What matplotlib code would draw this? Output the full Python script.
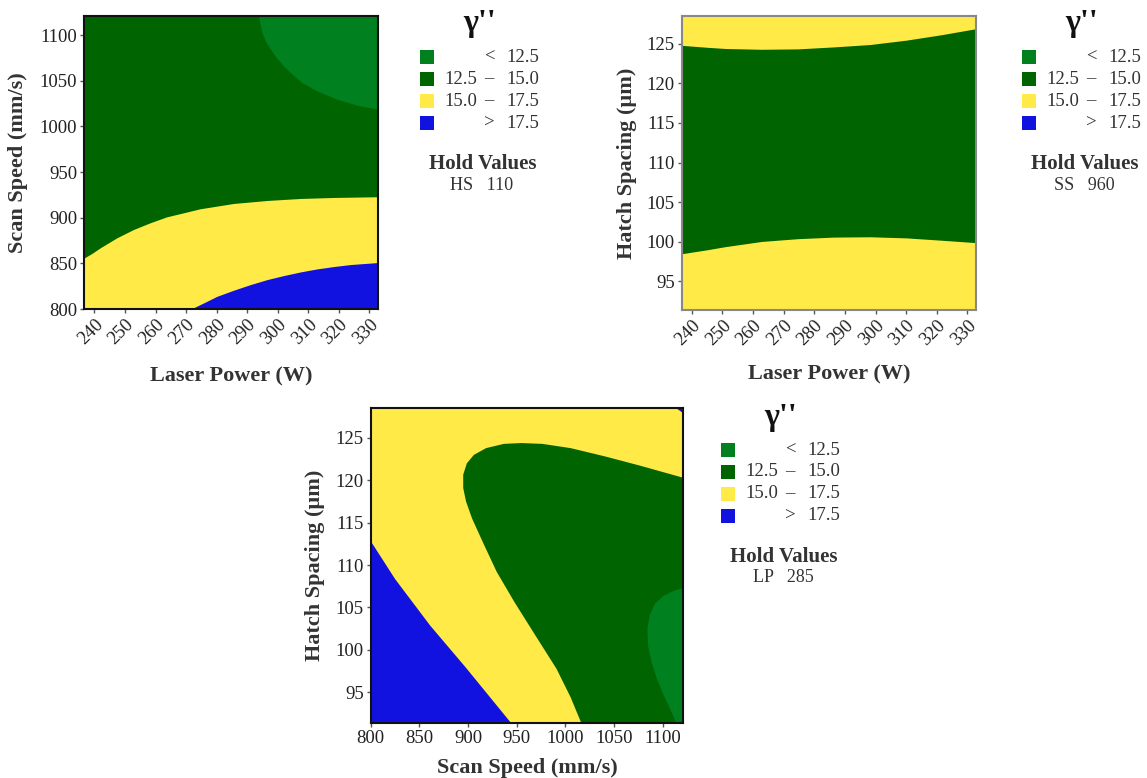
import matplotlib
matplotlib.use("Agg")
import matplotlib.pyplot as plt
from matplotlib.patches import Rectangle

W, H = 1147, 778
plt.rcParams["font.family"] = ["Liberation Serif", "DejaVu Serif"]

# band colours and legend entries (gamma'' level bands)
band_colors = ["#00801f", "#006400", "#ffea47", "#1111e0"]
band_labels = [("", "<", "12.5"), ("12.5", "–", "15.0"),
               ("15.0", "–", "17.5"), ("", ">", "17.5")]

# factor ranges shown on the axes
lp_range = (236.7, 332.8)
ss_range = (800, 1121)
hs_range = (91.4, 128.5)

# panel 1: laser power vs scan speed (HS held at 110), band boundaries
lp_c15 = [236.7, 239.1, 241.9, 247.3, 252.8, 258.2, 263.7, 269.2, 274.6,
          285.5, 296.5, 307.4, 318.3, 332.8]
ss_c15 = [856, 860.7, 867, 877.9, 887.1, 894.4, 901, 905.4, 909.8,
          915.6, 918.9, 921.1, 922.2, 923]
lp_c175 = [271.6, 275.7, 280.1, 285.5, 291.0, 296.5, 301.9, 307.4, 312.8,
           318.3, 323.8, 332.8]
ss_c175 = [800, 806.6, 813.9, 820.5, 826.7, 832.2, 836.6, 840.6, 843.9,
           846.5, 848.7, 850.9]
lp_c125 = [293.7, 294.1, 294.8, 295.9, 297.6, 299.5, 301.9, 304.7, 307.9,
           312.8, 319.4, 326.0, 332.8]
ss_c125 = [1121, 1113.9, 1103, 1093.8, 1084.7, 1075.5, 1066.4, 1057.2, 1048.1,
           1038.9, 1029.8, 1023.2, 1018.8]

# panel 2: laser power vs hatch spacing (SS held at 960)
lp2 = [236.7, 245, 251.0, 262.8, 274.6, 286.4, 298.2, 310.0, 321.7, 332.8]
hs_upper = [124.8, 124.55, 124.4, 124.3, 124.35, 124.6, 124.9, 125.45, 126.15, 126.9]
hs_lower = [98.5, 99.0, 99.4, 100.05, 100.4, 100.6, 100.64, 100.5, 100.2, 99.9]

# panel 3: scan speed vs hatch spacing (LP held at 285)
ss_blue = [800, 824.6, 860.7, 896.9, 943.8]
hs_blue = [112.8, 108.4, 102.9, 98.0, 91.4]
ss_mid = [1016.1, 1005.3, 990.8, 969.1, 947.5, 929.4, 914.9, 904.1, 897.9,
          895.0, 895.0, 898.7, 905.9, 918.5, 936.6, 954.7, 976.4, 1005.3,
          1041.4, 1077.6, 1121, 1121]
hs_mid = [91.4, 94.4, 97.76, 101.7, 105.65, 109.2, 112.76, 115.5, 117.5,
          119.1, 120.66, 122.0, 123.0, 123.8, 124.3, 124.4, 124.3, 123.8,
          122.8, 121.7, 120.3, 91.4]
ss_low = [1121, 1111.9, 1101, 1092, 1086.6, 1084.1, 1084.8, 1088.4, 1093.8,
          1101, 1108.3, 1113.7, 1121]
hs_low = [107.3, 107.0, 106.4, 105.46, 104.1, 102.5, 100.5, 98.55, 96.6,
          94.6, 92.8, 91.4, 91.4]
ss_corner = [1113.5, 1121, 1121]
hs_corner = [128.5, 128.5, 127.9]

hold_values = ["HS   110", "SS   960", "LP   285"]

fig = plt.figure(figsize=(W / 100, H / 100), dpi=100)


def px_axes(left, top, right, bottom):
    return fig.add_axes([left / W, 1 - bottom / H, (right - left) / W, (bottom - top) / H])


def style(ax, xlabel, ylabel, xlab_y, ylab_x, frame, rotate):
    for s in ax.spines.values():
        s.set_color(frame)
        s.set_linewidth(1.5)
    ax.tick_params(length=3, width=1, color="#555555", labelsize=13.5,
                   labelcolor="#222222", pad=2)
    if rotate:
        for t in ax.get_xticklabels():
            t.set_rotation(45)
            t.set_ha("right")
            t.set_rotation_mode("anchor")
    ax.set_xlabel(xlabel, fontsize=16, fontweight="bold", color="#333333", va="center")
    ax.set_ylabel(ylabel, fontsize=16, fontweight="bold", color="#333333", va="center")
    ax.xaxis.set_label_coords(0.5, xlab_y)
    ax.yaxis.set_label_coords(ylab_x, 0.5)


def legend(x0, y0, hold):
    def fx(x):
        return x / W

    def fy(y):
        return 1 - y / H

    fig.text(fx(x0 + 60), fy(y0 - 33), "γ''", fontsize=23, fontweight="bold",
             ha="center", va="center", color="#111111")
    for i, (c, (a, s, b)) in enumerate(zip(band_colors, band_labels)):
        yc = y0 + i * 22
        fig.add_artist(Rectangle((fx(x0), fy(yc + 7)), 14 / W, 14 / H,
                                 transform=fig.transFigure, facecolor=c,
                                 edgecolor="none"))
        kw = dict(fontsize=13.5, va="center", color="#333333")
        fig.text(fx(x0 + 57), fy(yc), a, ha="right", **kw)
        fig.text(fx(x0 + 69), fy(yc), s, ha="center", **kw)
        fig.text(fx(x0 + 119), fy(yc), b, ha="right", **kw)
    fig.text(fx(x0 + 63), fy(y0 + 107), "Hold Values", fontsize=15,
             fontweight="bold", ha="center", va="center", color="#333333")
    fig.text(fx(x0 + 62), fy(y0 + 128), hold, fontsize=13,
             ha="center", va="center", color="#333333")


yellow = band_colors[2]

# ---- panel 1
ax1 = px_axes(84.3, 16, 378, 309)
ax1.set_facecolor(yellow)
ax1.fill_between(lp_c15, ss_c15, ss_range[1], color=band_colors[1], lw=0)
ax1.fill_between(lp_c175, ss_range[0], ss_c175, color=band_colors[3], lw=0)
ax1.fill_between(lp_c125, ss_c125, ss_range[1], color=band_colors[0], lw=0)
ax1.set_xlim(lp_range)
ax1.set_ylim(ss_range)
ax1.set_xticks(range(240, 331, 10))
ax1.set_yticks(range(800, 1101, 50))
style(ax1, "Laser Power (W)", "Scan Speed (mm/s)", -0.229, -0.226, "#111111", True)
legend(420, 57, hold_values[0])

# ---- panel 2
ax2 = px_axes(681.7, 16, 976, 310)
ax2.set_facecolor(yellow)
ax2.fill_between(lp2, hs_lower, hs_upper, color=band_colors[1], lw=0)
ax2.set_xlim(lp_range)
ax2.set_ylim(hs_range)
ax2.set_xticks(range(240, 331, 10))
ax2.set_yticks(range(95, 126, 5))
style(ax2, "Laser Power (W)", "Hatch Spacing (µm)", -0.218, -0.186, "#888888", True)
legend(1022, 57, hold_values[1])

# ---- panel 3
ax3 = px_axes(370.7, 408.3, 683.3, 722.7)
ax3.set_facecolor(yellow)
ax3.fill_between(ss_blue, hs_range[0], hs_blue, color=band_colors[3], lw=0)
ax3.fill(ss_mid, hs_mid, color=band_colors[1], lw=0)
ax3.fill(ss_low, hs_low, color=band_colors[0], lw=0)
ax3.fill(ss_corner, hs_corner, color=band_colors[3], lw=0)
ax3.set_xlim(ss_range)
ax3.set_ylim(hs_range)
ax3.set_xticks(range(800, 1101, 50))
ax3.set_yticks(range(95, 126, 5))
style(ax3, "Scan Speed (mm/s)", "Hatch Spacing (µm)", -0.144, -0.177, "#111111", False)
legend(721, 450, hold_values[2])

fig.savefig("out.png", dpi=100, facecolor="white")
